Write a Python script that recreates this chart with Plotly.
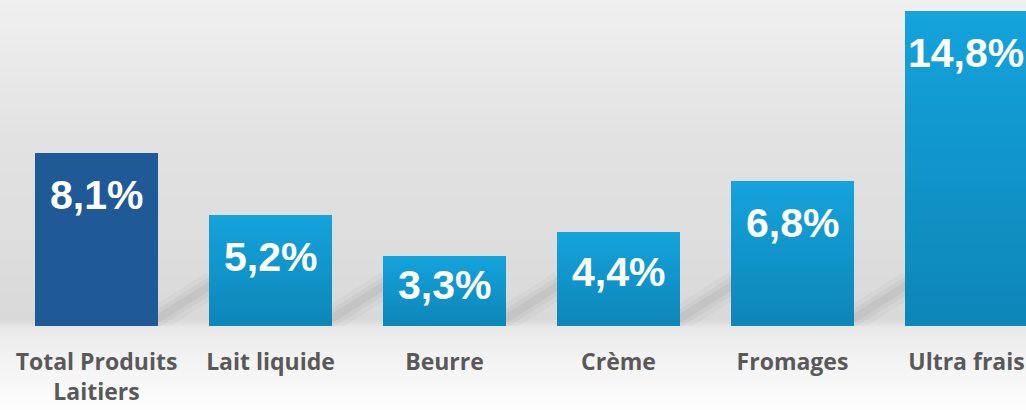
import plotly.graph_objects as go

categories = ["Total Produits<br>Laitiers", "Lait liquide", "Beurre", "Crème", "Fromages", "Ultra frais"]
values = [8.1, 5.2, 3.3, 4.4, 6.8, 14.8]
labels = ["8,1%", "5,2%", "3,3%", "4,4%", "6,8%", "14,8%"]
top_colors = [(31, 90, 151), (20, 163, 219), (20, 163, 219), (20, 163, 219), (20, 163, 219), (20, 163, 219)]
bottom_colors = [(31, 90, 151), (13, 133, 184), (13, 133, 184), (13, 133, 184), (13, 133, 184), (13, 133, 184)]

W, H = 1026, 410
MB = 84
plot_h = H - MB
YMAX = 15.3
px_per_unit = plot_h / YMAX
BAR_W = 0.707

fig = go.Figure()
x_idx = list(range(len(categories)))

# bars with a vertical gradient: overlaid bars of decreasing height, darker toward the base
N = 30
for k in range(N):
    f = k / N
    cols = []
    for tc, bc in zip(top_colors, bottom_colors):
        c = [round(tc[j] + (bc[j] - tc[j]) * f) for j in range(3)]
        cols.append(f"rgb({c[0]},{c[1]},{c[2]})")
    fig.add_trace(go.Bar(
        x=x_idx, y=[v * (1 - f) for v in values], width=BAR_W,
        marker=dict(color=cols, line=dict(width=0)),
        hoverinfo="skip",
    ))

# value labels inside bars
for i, (v, t) in enumerate(zip(values, labels)):
    h = v * px_per_unit
    shift = -min(42, 0.42 * h)
    fig.add_annotation(x=i, y=v, text=t, showarrow=False, yshift=shift,
                       yanchor="middle", xanchor="center",
                       font=dict(family="Liberation Sans", size=41, color="white", weight="bold"))

# background vertical gradient (stripes in paper coords)
stops = [(0, 240), (140, 226), (250, 221), (320, 217), (328, 233), (360, 243), (410, 253)]
def gray_at(py):
    for (a, ga), (b, gb) in zip(stops[:-1], stops[1:]):
        if a <= py <= b:
            return ga + (gb - ga) * (py - a) / (b - a)
    return stops[-1][1]

step = 2
shapes = []
py = 0
while py < H:
    g = int(round(gray_at(py + step / 2)))
    y0 = (plot_h - (py + step)) / plot_h
    y1 = (plot_h - py) / plot_h
    shapes.append(dict(type="rect", xref="paper", yref="paper", x0=0, x1=1, y0=y0, y1=y1,
                       fillcolor=f"rgb({g},{g},{g})", line=dict(width=0), layer="below"))
    py += step

# soft cast shadows to the right of each bar base
for i in x_idx:
    xr = i + BAR_W / 2
    for lw, a in [(26, 0.035), (16, 0.045), (8, 0.06)]:
        shapes.append(dict(type="line", xref="x", yref="y", x0=xr - 0.02, y0=0.25, x1=xr + 0.32, y1=2.0,
                           line=dict(color=f"rgba(60,60,60,{a})", width=lw), layer="below"))

fig.update_layout(
    width=W, height=H,
    margin=dict(l=0, r=0, t=0, b=MB),
    paper_bgcolor="#f0f0f0",
    plot_bgcolor="rgba(0,0,0,0)",
    shapes=shapes,
    showlegend=False,
    barmode="overlay",
    bargap=0,
    xaxis=dict(range=[-0.5546, 5.342], tickmode="array", tickvals=x_idx, ticktext=categories,
               showgrid=False, zeroline=False, showline=False, ticks="",
               tickfont=dict(family="Open Sans", size=23, color="#595959", weight="bold"),
               ticklabelstandoff=20, fixedrange=True),
    yaxis=dict(range=[0, YMAX], visible=False, showgrid=False, zeroline=False, fixedrange=True),
)

fig.write_html("out.html", config={"displayModeBar": False},
               post_script="document.body.style.margin='0';document.body.style.overflow='hidden';")
